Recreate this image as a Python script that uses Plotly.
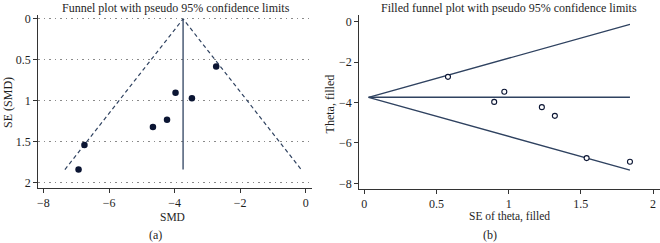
import plotly.graph_objects as go

# Data
smd = [-2.73, -3.97, -3.47, -4.23, -4.66, -6.75, -6.93]
se = [0.58, 0.90, 0.97, 1.23, 1.32, 1.54, 1.84]
theta_pooled = -3.74
se_max = 1.84
se_min_filled = 0.03
z = 1.96

left_yticks = [0, 0.5, 1, 1.5, 2]
left_xticks = [-8, -6, -4, -2, 0]
right_xticks = [0, 0.5, 1, 1.5, 2]
right_yticks = [0, -2, -4, -6, -8]

W, H = 660, 243
line_col = "#2f4260"
mark_col = "#0b1533"
axis_col = "#333333"
txt_col = "#1e1e1e"
FONT = "Liberation Serif, Times New Roman, serif"

fig = go.Figure()

# Left panel: funnel plot
fig.add_trace(go.Scatter(x=[theta_pooled - z * se_max, theta_pooled, theta_pooled + z * se_max],
                         y=[se_max, 0, se_max], mode="lines",
                         line=dict(color=line_col, width=1.2, dash="4px,3px"),
                         xaxis="x", yaxis="y", showlegend=False, hoverinfo="skip"))
fig.add_trace(go.Scatter(x=[theta_pooled, theta_pooled], y=[0, se_max], mode="lines",
                         line=dict(color=line_col, width=1.3),
                         xaxis="x", yaxis="y", showlegend=False, hoverinfo="skip"))
fig.add_trace(go.Scatter(x=smd, y=se, mode="markers",
                         marker=dict(color=mark_col, size=6.5),
                         xaxis="x", yaxis="y", showlegend=False))

# Right panel: filled funnel plot
fig.add_trace(go.Scatter(x=[se_max, se_min_filled, se_max],
                         y=[theta_pooled + z * se_max, theta_pooled, theta_pooled - z * se_max],
                         mode="lines", line=dict(color=line_col, width=1.3),
                         xaxis="x2", yaxis="y2", showlegend=False, hoverinfo="skip"))
fig.add_trace(go.Scatter(x=[se_min_filled, se_max], y=[theta_pooled, theta_pooled],
                         mode="lines", line=dict(color=line_col, width=1.3),
                         xaxis="x2", yaxis="y2", showlegend=False, hoverinfo="skip"))
fig.add_trace(go.Scatter(x=se, y=smd, mode="markers",
                         marker=dict(color="white", size=5, line=dict(color=mark_col, width=1.1)),
                         xaxis="x2", yaxis="y2", showlegend=False))

tickfont = dict(family=FONT, size=12, color=txt_col)
common = dict(showline=True, linecolor=axis_col, linewidth=1.1, ticks="outside",
              ticklen=4, tickcolor=axis_col, tickwidth=1, zeroline=False,
              tickfont=tickfont, fixedrange=True)

fig.update_layout(
    width=W, height=H,
    margin=dict(l=0, r=0, t=0, b=0),
    paper_bgcolor="white", plot_bgcolor="white",
    xaxis=dict(domain=[37.3 / W, 311 / W], range=[-8.16, 0.18],
               tickvals=left_xticks, showgrid=False, anchor="y", **common),
    yaxis=dict(domain=[1 - 188.5 / H, 1 - 12.5 / H], range=[2.06, -0.045],
               tickvals=left_yticks, ticktext=["0", "0.5", "1", "1.5", "2"],
               showgrid=True, gridcolor="#8a8a8a", griddash="1.5px,4px", gridwidth=1,
               anchor="x", **common),
    xaxis2=dict(domain=[358.7 / W, 1.0], range=[-0.035, 2.048],
                tickvals=right_xticks, ticktext=["0", "0.5", "1", "1.5", "2"],
                showgrid=False, anchor="y2", **common),
    yaxis2=dict(domain=[1 - 189.5 / H, 1 - 12.5 / H], range=[-8.26, 0.32],
                tickvals=right_yticks, showgrid=False, anchor="x2", **common),
)

def ann(text, px, py, size=12, angle=0):
    fig.add_annotation(text=text, x=px / W, y=1 - py / H, xref="paper", yref="paper",
                       showarrow=False, textangle=angle, xanchor="center", yanchor="middle",
                       font=dict(family=FONT, size=size, color=txt_col))

ann("Funnel plot with pseudo 95% confidence limits", 175, 5, 12)
ann("Filled funnel plot with pseudo 95% confidence limits", 509, 5, 12)
ann("SMD", 172, 218, 11.5)
ann("SE of theta, filled", 509, 218, 11.5)
ann("SE (SMD)", 7, 101, 12, -90)
ann("Theta, filled", 329, 103, 12, -90)
ann("(a)", 155, 237)
ann("(b)", 490, 237)

fig.write_html("out.html", config={"displayModeBar": False, "staticPlot": True},
               post_script="document.body.style.margin='0';document.body.style.overflow='hidden';")
